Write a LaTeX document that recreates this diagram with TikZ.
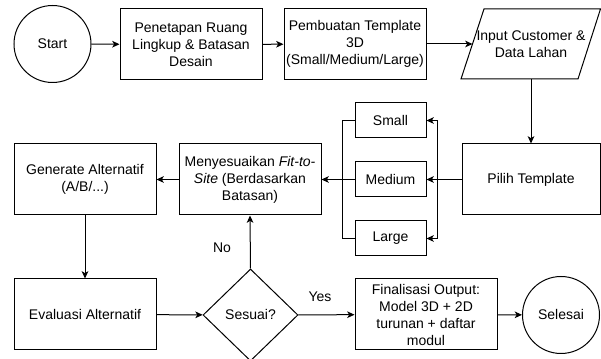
\documentclass[tikz,border=0pt]{standalone}
\usepackage{fontspec}
\setmainfont{Liberation Sans}
\usetikzlibrary{arrows.meta,shapes.geometric}
\begin{document}
\begin{tikzpicture}[x=0.75pt,y=-0.75pt,
  font=\fontsize{10.5}{12.75}\selectfont,
  line width=0.75pt,
  box/.style={draw, rectangle, align=center, minimum width=106.5pt, minimum height=53.25pt, inner sep=1pt},
  smallbox/.style={draw, rectangle, align=center, minimum width=53.25pt, minimum height=26.25pt, inner sep=1pt},
  term/.style={draw, circle, minimum size=57.75pt, inner sep=0pt},
  decision/.style={draw, diamond, minimum width=71.25pt, minimum height=69pt, inner sep=0pt},
  arr/.style={-{Stealth[length=5.5pt,width=5pt,inset=1.5pt]}},
  lbl/.style={inner sep=0pt}]
\useasboundingbox (0,0) rectangle (601,359);

% nodes
\node[term] (start) at (52.5,44) {Start};
\node[box] (b1) at (191,44.5) {Penetapan Ruang\\Lingkup \& Batasan\\Desain};
\node[box] (b2) at (355,44) {Pembuatan Template\\3D\\(Small/Medium/Large)};
\draw (461,79) -- (484,9) -- (600.5,9) -- (578,79) -- cycle;
\node[align=center, minimum width=87pt, minimum height=52.5pt, inner sep=0pt] (input) at (531,44) {Input Customer \&\\Data Lahan};
\coordinate (inw) at (472.5,44);
\node[box, minimum width=103.5pt] (pilih) at (531,179.5) {Pilih Template};
\node[smallbox] (small) at (390.5,120.5) {Small};
\node[smallbox] (medium) at (390.5,179.5) {Medium};
\node[smallbox] (large) at (390.5,238.5) {Large};
\node[box] (menyes) at (250,179.5) {Menyesuaikan \textit{Fit-to-}\\\textit{Site} (Berdasarkan\\Batasan)};
\node[box] (generate) at (85,179.5) {Generate Alternatif\\(A/B/...)};
\node[box] (evaluasi) at (85,314.5) {Evaluasi Alternatif};
\node[decision] (sesuai) at (250.5,315) {Sesuai?};
\node[box] (final) at (426,314.5) {Finalisasi Output:\\Model 3D + 2D\\turunan + daftar\\modul};
\node[term] (selesai) at (561,315) {Selesai};

% connectors
\draw[arr] (start) -- (b1);
\draw[arr] (b1) -- (b2);
\draw[arr] (b2.east) -- (inw);
\draw[arr] (input.south) -- (pilih.north);
\draw[arr] (pilih.west) -- (medium.east);
\draw[arr] (pilih.west) -- ++(-24,0) |- (small.east);
\draw[arr] (pilih.west) -- ++(-24,0) |- (large.east);
\draw[arr] (medium.west) -- (menyes.east);
\draw (small.west) -- ++(-12,0) |- (menyes.east);
\draw (large.west) -- ++(-12,0) |- (menyes.east);
\draw[arr] (menyes) -- (generate);
\draw[arr] (generate) -- (evaluasi);
\draw[arr] (evaluasi) -- (sesuai);
\draw[arr] (sesuai) -- (final);
\draw[arr] (sesuai.north) -- (menyes.south);
\draw[arr] (final) -- (selesai);

% labels
\node[lbl] (nolbl) at (222,248) {No};
\node[lbl] (yeslbl) at (320,297) {Yes};
\end{tikzpicture}
\end{document}
